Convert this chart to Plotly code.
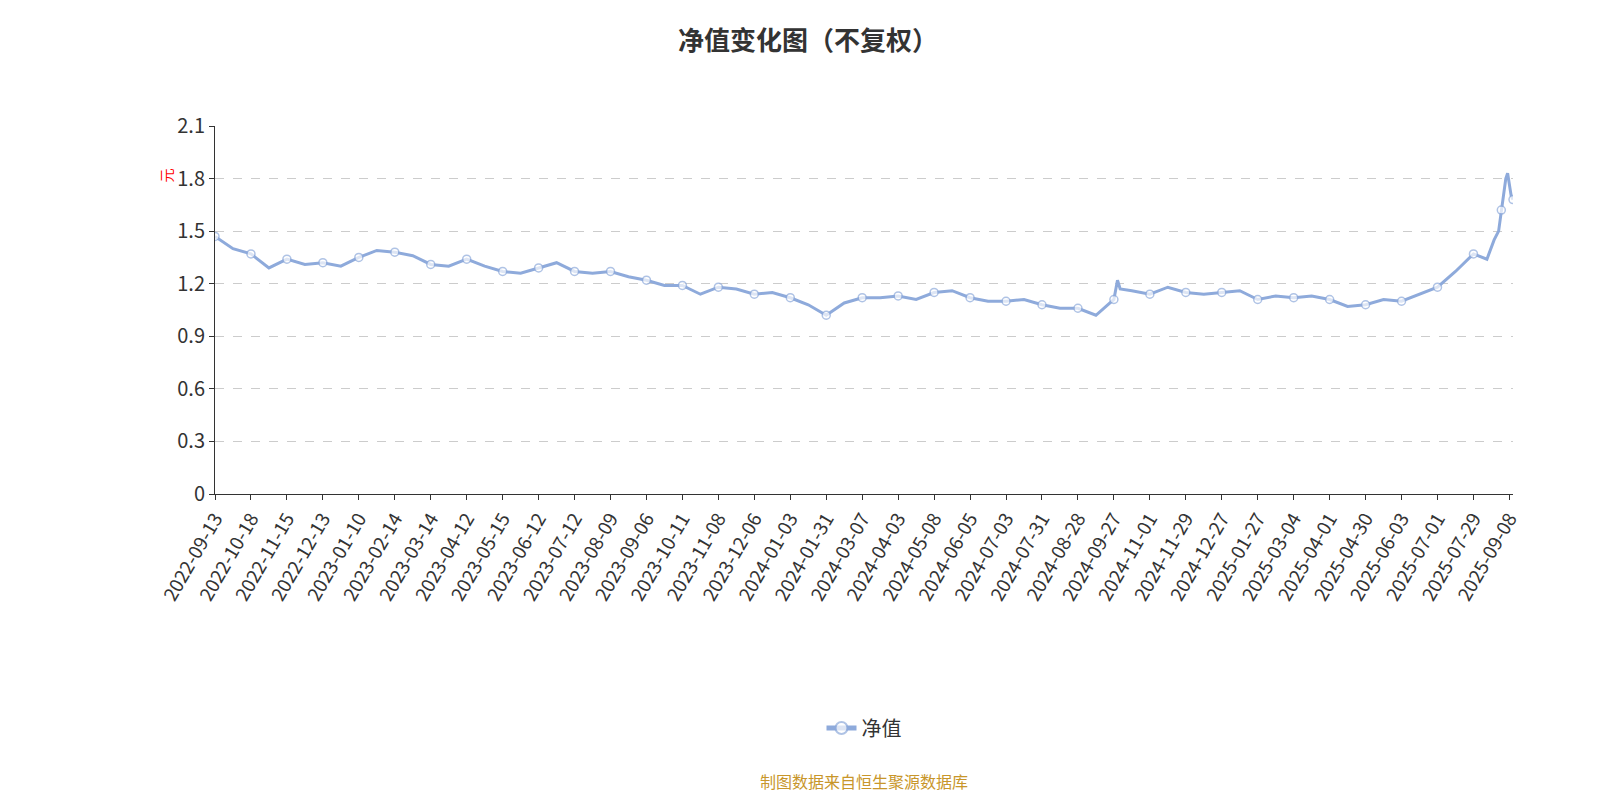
import plotly.graph_objects as go

tick_labels = ["2022-09-13","2022-10-18","2022-11-15","2022-12-13","2023-01-10","2023-02-14","2023-03-14",
"2023-04-12","2023-05-15","2023-06-12","2023-07-12","2023-08-09","2023-09-06","2023-10-11","2023-11-08",
"2023-12-06","2024-01-03","2024-01-31","2024-03-07","2024-04-03","2024-05-08","2024-06-05","2024-07-03",
"2024-07-31","2024-08-28","2024-09-27","2024-11-01","2024-11-29","2024-12-27","2025-01-27","2025-03-04",
"2025-04-01","2025-04-30","2025-06-03","2025-07-01","2025-07-29","2025-09-08"]
tick_values = [1.47,1.37,1.34,1.32,1.35,1.38,1.31,1.34,1.27,1.29,1.27,1.27,1.22,1.19,1.18,1.14,1.12,1.02,
1.12,1.13,1.15,1.12,1.10,1.08,1.06,1.11,1.14,1.15,1.15,1.11,1.12,1.11,1.08,1.10,1.18,1.37]
mid_values = [1.40,1.29,1.31,1.30,1.39,1.36,1.30,1.30,1.26,1.32,1.26,1.24,1.19,1.14,1.17,1.15,1.08,1.09,
1.12,1.11,1.16,1.10,1.11,1.06,1.02,1.16,1.18,1.14,1.16,1.13,1.13,1.07,1.11,1.14,1.27]
end_pos = [141.5,142.3,142.8,143.1,143.6,143.8,144.0,144.2,144.4]
end_values = [1.34,1.45,1.50,1.62,1.80,1.83,1.75,1.70,1.68]
end_marked = [0,0,0,1,0,0,0,0,1]

xs, ys, sz = [], [], []
for i, v in enumerate(tick_values):
    xs.append(i*4); ys.append(v); sz.append(8)
    if i == 25:
        xs.append(i*4+0.4); ys.append(1.22); sz.append(0)
        xs.append(i*4+0.7); ys.append(1.17); sz.append(0)
    if i < len(mid_values):
        xs.append(i*4+2); ys.append(mid_values[i]); sz.append(0)
for p, v, m in zip(end_pos, end_values, end_marked):
    xs.append(p); ys.append(v); sz.append(8 if m else 0)

color = "#8eaadb"
fig = go.Figure(go.Scatter(x=xs, y=ys, mode="lines+markers", name="净值",
    line=dict(color=color, width=3),
    marker=dict(size=sz, color="white", line=dict(color=color, width=1.5))))
fig.update_layout(
    width=1600, height=800, plot_bgcolor="white", paper_bgcolor="white",
    margin=dict(l=207, r=95, t=118, b=314, autoexpand=False),
    font=dict(family="Noto Sans CJK SC", color="#333"),
    title=dict(text="<b>净值变化图（不复权）</b>", x=0.5, y=0.97, xanchor="center", font=dict(size=26, color="#333")),
    xaxis=dict(range=[0,144.4], tickmode="array", tickvals=[i*4 for i in range(37)], ticktext=tick_labels,
               tickangle=-60, showgrid=False, showline=True, linecolor="#333", ticks="outside",
               tickcolor="#333", tickfont=dict(size=19), zeroline=False, automargin=False),
    yaxis=dict(range=[0,2.1], tickvals=[0,0.3,0.6,0.9,1.2,1.5,1.8,2.1], ticktext=["0","0.3","0.6","0.9","1.2","1.5","1.8","2.1"],
               showgrid=True, gridcolor="#ccc", griddash="dash", showline=True, linecolor="#333",
               ticks="outside", tickcolor="#333", tickfont=dict(size=20), zeroline=False, automargin=False),
    legend=dict(orientation="h", x=0.5, xanchor="center", y=-0.636, yanchor="middle", font=dict(size=20),
                itemsizing="constant"),
    showlegend=True,
)
fig.add_annotation(text="元", xref="paper", yref="paper", x=-0.047, y=0.89, showarrow=False,
                   textangle=-90, font=dict(color="red", size=14))
fig.add_annotation(text="制图数据来自恒生聚源数据库", xref="paper", yref="paper", x=0.5, y=-0.78,
                   yanchor="middle", showarrow=False, font=dict(color="#c8962a", size=16))
fig.write_html("out.html")
